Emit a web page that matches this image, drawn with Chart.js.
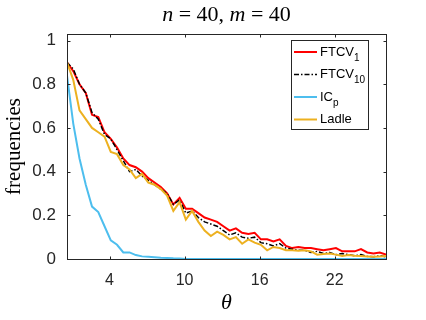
<!DOCTYPE html>
<html>
<head>
<meta charset="utf-8">
<script src="https://cdn.jsdelivr.net/npm/chart.js@4"></script>
<style>
html,body{margin:0;padding:0;background:#fff;}
</style>
</head>
<body>
<canvas id="grafico" width="426" height="320"></canvas>
<script>
// valores
const theta = [0.6,1.1,1.6,2.1,2.6,3.1,3.6,4.1,4.6,5.1,5.6,6.1,6.6,7.1,7.6,8.1,8.6,9.1,9.6,10.1,
  10.6,11.1,11.6,12.1,12.6,13.1,13.6,14.1,14.6,15.1,15.6,16.1,16.6,17.1,17.6,18.1,18.6,19.1,19.6,20.1,
  20.6,21.1,21.6,22.1,22.6,23.1,23.6,24.1,24.6,25.1,25.6,26.1];
const ftcv1 = [0.90,0.86,0.80,0.76,0.66,0.65,0.58,0.55,0.51,0.46,0.43,0.42,0.40,0.37,0.35,0.33,0.30,0.25,0.28,0.23,
  0.23,0.21,0.19,0.18,0.17,0.15,0.13,0.14,0.12,0.115,0.12,0.09,0.09,0.08,0.09,0.06,0.05,0.055,0.05,0.05,
  0.045,0.04,0.045,0.05,0.035,0.035,0.035,0.045,0.03,0.025,0.03,0.02];
const ftcv10 = [0.90,0.87,0.80,0.76,0.67,0.64,0.57,0.55,0.50,0.45,0.40,0.41,0.38,0.36,0.34,0.32,0.30,0.25,0.27,0.21,
  0.22,0.19,0.17,0.16,0.15,0.13,0.11,0.12,0.10,0.095,0.10,0.075,0.07,0.06,0.07,0.05,0.045,0.04,0.04,0.03,
  0.035,0.025,0.03,0.02,0.025,0.02,0.015,0.02,0.012,0.01,0.015,0.01];
const icp = [0.84,0.62,0.46,0.34,0.24,0.215,0.15,0.085,0.065,0.03,0.03,0.018,0.012,0.01,0.008,0.006,0.005,0.003,0.002,0,
  0,0,0,0,0,0,0,0,0,0,0,0,0,0,0,0,0,0,0,0,
  0,0,0,0,0,0,0,0,0,0,0,0];
const ladle = [0.90,0.82,0.68,0.64,0.60,0.58,0.56,0.49,0.48,0.43,0.41,0.37,0.39,0.35,0.34,0.32,0.29,0.22,0.26,0.18,
  0.22,0.17,0.13,0.105,0.125,0.11,0.09,0.10,0.07,0.09,0.075,0.065,0.04,0.055,0.05,0.04,0.04,0.038,0.04,0.035,
  0.02,0.023,0.025,0.02,0.014,0.018,0.015,0.014,0.012,0.01,0.012,0.014];
const xTicks = [4,10,16,22];
const yTicks = [0,0.2,0.4,0.6,0.8,1];
const yTickLabels = ['0','0.2','0.4','0.6','0.8','1'];

const series = [
  {base:'FTCV', sub:'1', data:ftcv1, color:'#ff0000', width:2, dash:[]},
  {base:'FTCV', sub:'10', data:ftcv10, color:'#000000', width:1.5, dash:[5,2,1.5,2]},
  {base:'IC', sub:'p', data:icp, color:'#4dbeee', width:2, dash:[]},
  {base:'Ladle', sub:'', data:ladle, color:'#edb120', width:2, dash:[]}
];

const ejeColor = '#262626';
const sans = '"Liberation Sans", Arial, sans-serif';
const serif = '"Liberation Serif", "DejaVu Serif", serif';

function dibujarTexto(ctx, partes, x, y, align){
  // partes: [texto, fuente, desplazamiento]
  let total = 0;
  partes.forEach(p => { ctx.font = p[1]; total += ctx.measureText(p[0]).width; });
  let cx = align === 'center' ? x - total/2 : x;
  partes.forEach(p => {
    ctx.font = p[1];
    ctx.fillText(p[0], cx, y + (p[2] || 0));
    cx += ctx.measureText(p[0]).width;
  });
}

const marco = {
  id: 'marco',
  afterDatasetsDraw(chart){
    const ctx = chart.ctx;
    const a = chart.chartArea;
    const xs = chart.scales.x, ys = chart.scales.y;
    ctx.save();
    ctx.strokeStyle = ejeColor;
    ctx.lineWidth = 1;
    const L = Math.round(a.left) + 0.5, R = Math.round(a.right) + 0.5;
    const T = Math.round(a.top) + 0.5, B = Math.round(a.bottom) + 0.5;
    ctx.strokeRect(L, T, R - L, B - T);
    ctx.beginPath();
    xTicks.forEach(v => {
      const px = Math.round(xs.getPixelForValue(v)) + 0.5;
      ctx.moveTo(px, B); ctx.lineTo(px, B - 3);
      ctx.moveTo(px, T); ctx.lineTo(px, T + 3);
    });
    yTicks.forEach(v => {
      const py = Math.round(ys.getPixelForValue(v)) + 0.5;
      ctx.moveTo(L, py); ctx.lineTo(L + 3, py);
      ctx.moveTo(R, py); ctx.lineTo(R - 3, py);
    });
    ctx.stroke();

    // leyenda
    const lx = 291.5, ly = 40.5, lw = 77, lh = 89;
    ctx.fillStyle = '#fff';
    ctx.fillRect(lx, ly, lw, lh);
    ctx.strokeStyle = ejeColor;
    ctx.strokeRect(lx, ly, lw, lh);
    series.forEach((s, i) => {
      const y = 52 + i * 22.5;
      ctx.beginPath();
      ctx.strokeStyle = s.color;
      ctx.lineWidth = s.width;
      ctx.setLineDash(s.dash);
      ctx.moveTo(294, y); ctx.lineTo(317, y);
      ctx.stroke();
      ctx.setLineDash([]);
      ctx.fillStyle = '#000';
      ctx.textBaseline = 'middle';
      ctx.textAlign = 'left';
      const partes = [[s.base, '13px ' + sans]];
      if (s.sub) partes.push([s.sub, '10px ' + sans, 6]);
      dibujarTexto(ctx, partes, 320, y, 'left');
    });

    // titulo y etiquetas
    ctx.fillStyle = '#000';
    ctx.textBaseline = 'middle';
    ctx.textAlign = 'left';
    const it = 'italic 22px ' + serif, up = '22px ' + serif;
    dibujarTexto(ctx, [['n', it], [' = 40, ', up], ['m', it], [' = 40', up]], (a.left + a.right)/2, 15, 'center');
    dibujarTexto(ctx, [['\u03b8', 'italic 22px ' + serif]], (a.left + a.right)/2, 303, 'center');
    ctx.translate(14, (a.top + a.bottom)/2);
    ctx.rotate(-Math.PI/2);
    ctx.textAlign = 'center';
    ctx.font = '21px ' + serif;
    ctx.fillText('frequencies', 0, 0);
    ctx.restore();
  }
};

new Chart(document.getElementById('grafico'), {
  type: 'line',
  data: {
    datasets: series.map((s, i) => ({
      label: s.base + s.sub,
      data: theta.map((t, j) => ({x: t, y: s.data[j]})),
      borderColor: s.color,
      borderWidth: s.width,
      borderDash: s.dash,
      pointRadius: 0,
      tension: 0,
      fill: false,
      order: 4 - i
    }))
  },
  options: {
    responsive: false,
    animation: false,
    layout: { padding: { left: 0, right: 40, top: 34, bottom: 0 } },
    plugins: { legend: { display: false }, title: { display: false }, tooltip: { enabled: false } },
    scales: {
      x: {
        type: 'linear',
        min: 0.6, max: 26.1,
        grid: { display: false, drawTicks: false },
        border: { display: false },
        afterBuildTicks: s => { s.ticks = xTicks.map(v => ({value: v})); },
        afterFit: s => { s.height = 61; },
        ticks: { color: ejeColor, padding: 12, font: { family: sans, size: 16 }, callback: v => String(v) }
      },
      y: {
        min: 0, max: 1.03,
        grid: { display: false, drawTicks: false },
        border: { display: false },
        afterBuildTicks: s => { s.ticks = yTicks.map(v => ({value: v})); },
        afterFit: s => { s.width = 67; },
        ticks: { color: ejeColor, padding: 11, font: { family: sans, size: 17 },
          callback: v => yTickLabels[yTicks.indexOf(v)] }
      }
    }
  },
  plugins: [marco]
});
</script>
</body>
</html>
